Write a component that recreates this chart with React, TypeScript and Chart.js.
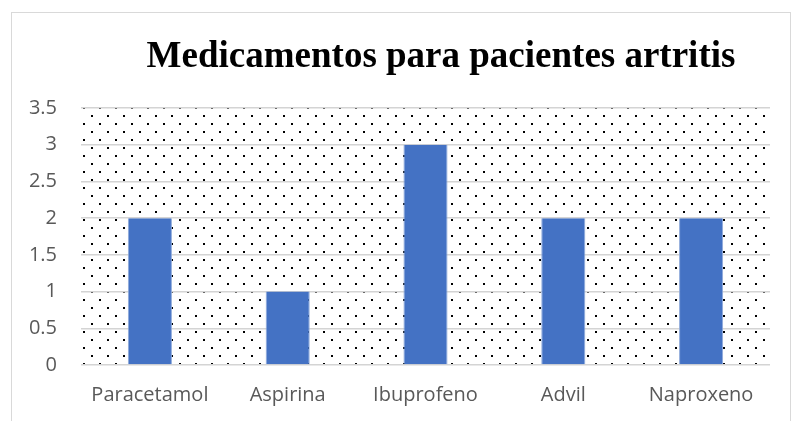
import React, { useEffect, useRef } from "react";
import { Chart, registerables } from "chart.js";

Chart.register(...registerables);

const TITLE = "Medicamentos para pacientes artritis";
const categories = ["Paracetamol", "Aspirina", "Ibuprofeno", "Advil", "Naproxeno"];
const values = [2, 1, 3, 2, 2];
const Y_MIN = 0;
const Y_MAX = 3.5;
const Y_STEP = 0.5;

const W = 791;
const H = 421;

function makePattern(ctx: CanvasRenderingContext2D): CanvasPattern | string {
  const c = document.createElement("canvas");
  c.width = 16;
  c.height = 16;
  const p = c.getContext("2d");
  if (!p) return "#fff";
  p.fillStyle = "#ffffff";
  p.fillRect(0, 0, 16, 16);
  p.fillStyle = "#000000";
  p.fillRect(11, 3, 2, 2);
  p.fillRect(3, 11, 2, 2);
  return ctx.createPattern(c, "repeat") || "#fff";
}

const backgroundPlugin = {
  id: "dotBg",
  beforeDraw(chart: any) {
    const { ctx, chartArea } = chart;
    ctx.save();
    ctx.fillStyle = "#ffffff";
    ctx.fillRect(0, 0, chart.width, chart.height);
    ctx.fillStyle = makePattern(ctx);
    ctx.fillRect(chartArea.left, chartArea.top, chartArea.right - chartArea.left, chartArea.bottom - chartArea.top);
    ctx.restore();
  },
  afterDraw(chart: any) {
    const { ctx } = chart;
    ctx.save();
    ctx.fillStyle = "#000000";
    ctx.font = "bold 37px 'Liberation Serif', 'Times New Roman', serif";
    ctx.textAlign = "center";
    ctx.textBaseline = "alphabetic";
    ctx.fillText(TITLE, 441, 67);
    ctx.restore();
  },
};

export default function App() {
  const ref = useRef<HTMLCanvasElement | null>(null);

  useEffect(() => {
    if (!ref.current) return;
    const chart = new Chart(ref.current, {
      type: "bar",
      data: {
        labels: categories,
        datasets: [
          {
            data: values,
            backgroundColor: "#4472C4",
            borderColor: "#8eaadb",
            borderWidth: { left: 1, right: 1, top: 0, bottom: 0 },
            borderSkipped: false,
            categoryPercentage: 1,
            barPercentage: 0.32,
          },
        ],
      },
      options: {
        responsive: false,
        animation: false,
        devicePixelRatio: 1,
        layout: { padding: { left: 0, right: 21, top: 108, bottom: 0 } },
        plugins: {
          legend: { display: false },
          title: { display: false },
          tooltip: { enabled: false },
        },
        scales: {
          x: {
            grid: { display: false, drawTicks: false },
            border: { display: false },
            ticks: {
              color: "#595959",
              font: { family: "'Open Sans', sans-serif", size: 20 },
              padding: 18,
            },
            afterFit(scale: any) {
              scale.height = 56;
            },
          },
          y: {
            min: Y_MIN,
            max: Y_MAX,
            grid: { color: "#d4d4d4", lineWidth: 1.5, drawTicks: false },
            border: { display: false },
            ticks: {
              stepSize: Y_STEP,
              color: "#595959",
              font: { family: "'Open Sans', sans-serif", size: 20 },
              padding: 24,
              callback: (v: any) => String(Number(v)),
            },
            afterFit(scale: any) {
              scale.width = 81;
            },
          },
        },
      },
      plugins: [backgroundPlugin],
    });
    return () => chart.destroy();
  }, []);

  return (
    <div style={{ position: "fixed", left: 0, top: 0, width: W, height: H, overflow: "hidden", background: "#fff" }}>
      <canvas ref={ref} width={W} height={H} style={{ position: "absolute", left: 0, top: 0 }} />
      <div
        style={{
          position: "absolute",
          left: 11,
          top: 12,
          width: 778,
          height: 440,
          border: "1px solid #d9d9d9",
          pointerEvents: "none",
        }}
      />
    </div>
  );
}
